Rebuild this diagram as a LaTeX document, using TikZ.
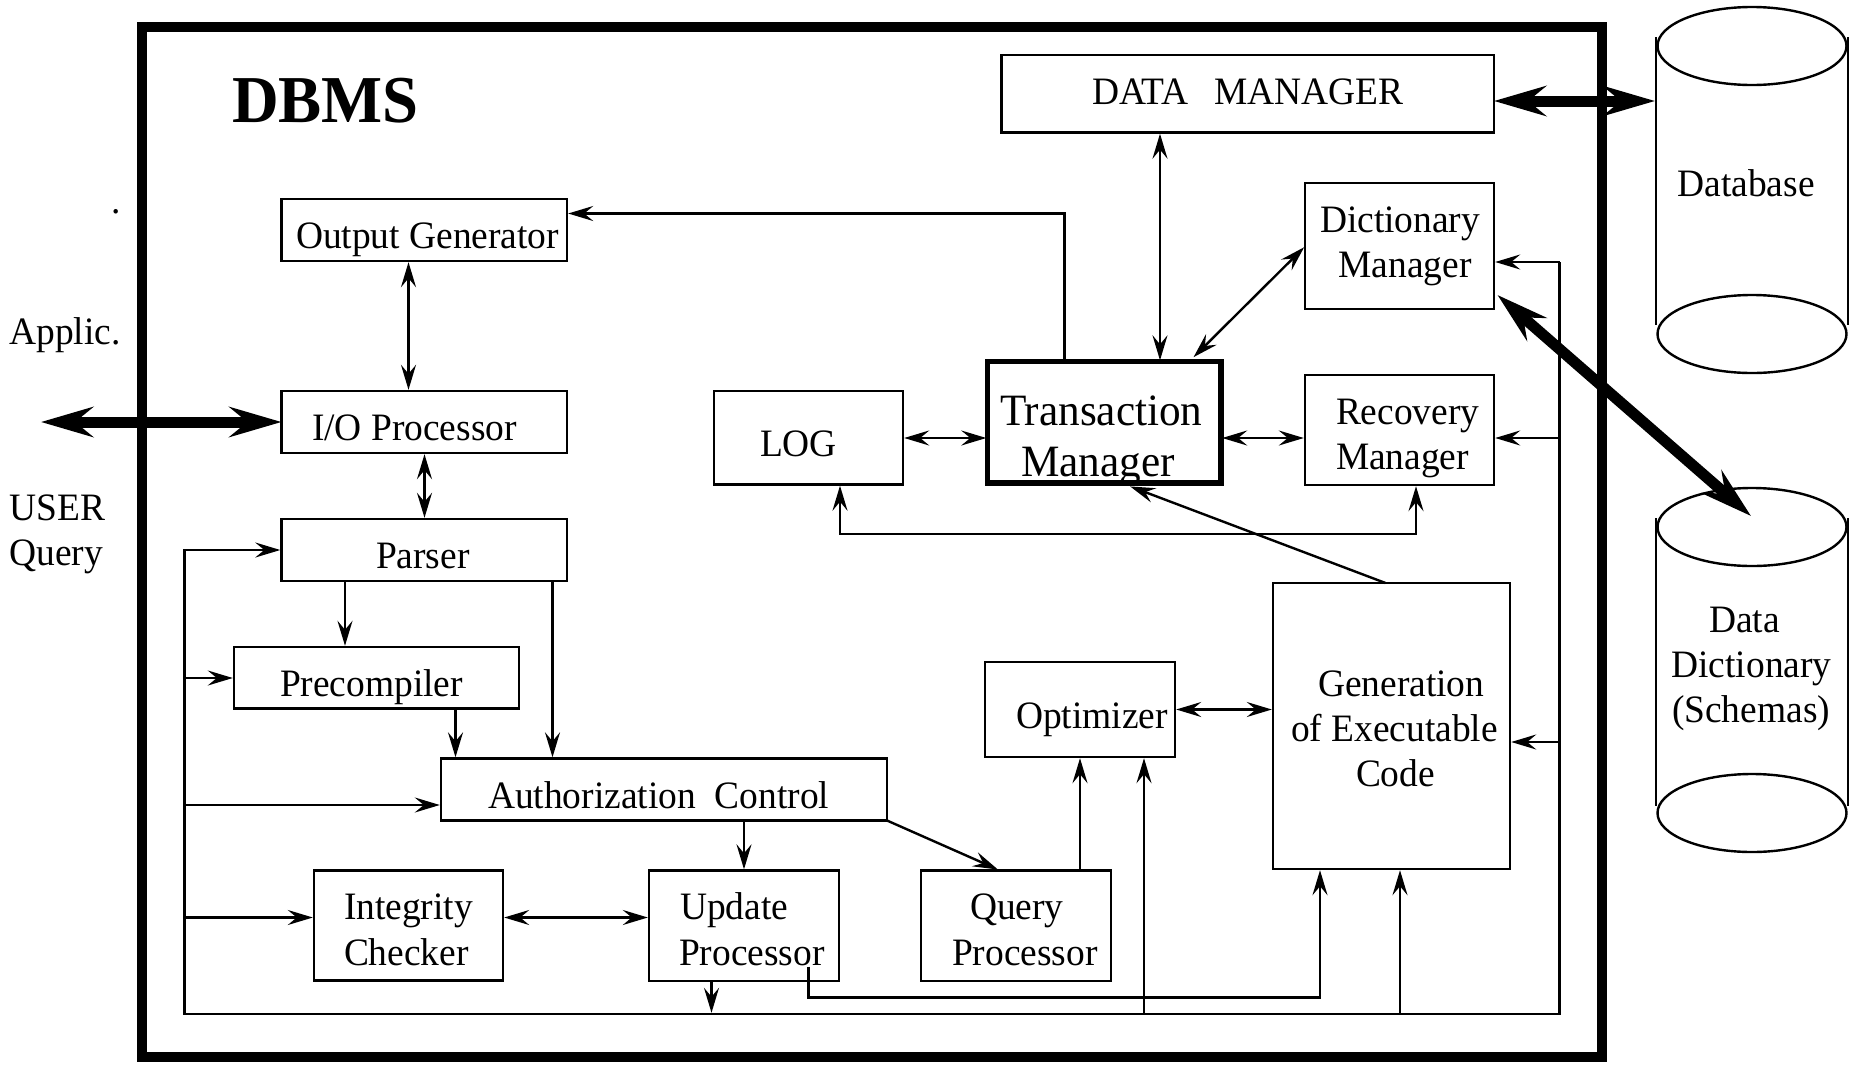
\documentclass[tikz,border=0pt]{standalone}
\usepackage{fontspec}
\setmainfont[FakeStretch=0.965]{Liberation Serif}
\usetikzlibrary{arrows.meta,shapes.geometric,calc}
\newcommand\dbbox[6][boxnode]{\node[#1,minimum width={(#5-#3)*0.5pt},minimum height={(#6-#4)*0.5pt}] (#2) at ({(#3+#5)/2},{(#4+#6)/2}) {};}
\newcommand\dbtext[4]{\node[lab] (#1) at (#2,#3) {#4};}
\tikzset{
  boxnode/.style={draw,line width=1.2pt,rectangle,inner sep=0pt,outer sep=0pt},
  heavybox/.style={boxnode,line width=2.8pt},
  lab/.style={anchor=base west,inner sep=0pt,outer sep=0pt,font=\fontsize{19.4}{22}\selectfont},
  thin tip/.tip={Stealth[length=12.5pt,width=7.5pt,inset=4.5pt]},
  thick tip/.tip={Stealth[length=26pt,width=15pt,inset=9pt]},
  wire/.style={line width=1.2pt},
  arr/.style={wire,-{thin tip},shorten >=0.6pt},
  dbl/.style={wire,{thin tip}-{thin tip},shorten >=0.6pt,shorten <=0.6pt},
  fat/.style={line width=5.5pt,{thick tip}-{thick tip}},
  cyl/.style={draw,ellipse,line width=1.2pt,inner sep=0pt,outer sep=0pt,minimum width=94.5pt,minimum height=39pt},
}
\begin{document}
\begin{tikzpicture}[x=0.5pt,y=-0.5pt]
\useasboundingbox (0,0) rectangle (1865,1066);
% outer frame
\dbbox[boxnode,line width=5pt]{frame}{142}{27}{1602}{1056.5}
% boxes
\dbbox{dm}{1001.5}{55}{1494}{132.5}
\dbbox{dict}{1305}{183}{1494}{309}
\dbbox{rec}{1305}{375}{1494}{485}
\dbbox[heavybox]{tm}{987.5}{361.5}{1221}{483}
\dbbox{log}{714}{391}{903}{484.5}
\dbbox{out}{281.5}{199}{567}{261}
\dbbox{io}{281.5}{391}{567}{453}
\dbbox{par}{281.5}{519}{567}{581}
\dbbox{pre}{234}{647}{519}{708.5}
\dbbox{auth}{441}{758.5}{887}{820.5}
\dbbox{integ}{314}{870.5}{503}{980.5}
\dbbox{upd}{649}{870.5}{839}{981}
\dbbox{qp}{921}{870.5}{1111}{981}
\dbbox{opt}{985}{662}{1175}{757}
\dbbox{gen}{1273}{583}{1510}{869}
% cylinders
\node[cyl] (dbTop) at (1752,46) {};
\node[cyl] (dbBot) at (1752,334) {};
\node[cyl] (ddTop) at (1752,527) {};
\node[cyl] (ddBot) at (1752,813) {};
\draw[wire] (1656,37) -- (1656,325);
\draw[wire] (1848,37) -- (1848,325);
\draw[wire] (1656,518) -- (1656,806);
\draw[wire] (1848,518) -- (1848,806);
% labels
\node[lab,font=\fontsize{33.5}{36}\selectfont\bfseries] (dbms) at (232,122) {DBMS};
\dbtext{dot}{112}{213}{.}
\dbtext{applic}{9.5}{344}{Applic.}
\dbtext{user}{9.5}{520}{USER}
\dbtext{query}{9.5}{565}{Query}
\dbtext{tout}{296}{248}{Output Generator}
\dbtext{tio}{312}{440}{I/O Processor}
\dbtext{tpar}{376}{568}{Parser}
\dbtext{tpre}{280}{696}{Precompiler}
\dbtext{tauth}{488}{808}{Authorization\ \ Control}
\dbtext{tint}{344}{919.5}{Integrity}
\dbtext{tchk}{344}{965}{Checker}
\dbtext{tupd}{680}{919.5}{Update}
\dbtext{tupp}{679}{965}{Processor}
\dbtext{tqry}{970}{919.5}{Query}
\dbtext{tqrp}{952}{965}{Processor}
\dbtext{topt}{1016}{728}{Optimizer}
\dbtext{tgen}{1318}{696.5}{Generation}
\dbtext{texe}{1291}{741}{of Executable}
\dbtext{tcod}{1356}{786}{Code}
\node[lab,font=\fontsize{22.4}{24}\selectfont] (ttr) at (1000,425) {Transaction};
\node[lab,font=\fontsize{22.4}{24}\selectfont] (tmg) at (1021,476) {Manager};
\dbtext{tlog}{760}{456}{LOG}
\dbtext{tdm}{1092}{104.5}{DATA\ \ \ \kern-1.2pt MANAGER}
\dbtext{tdic}{1320}{232}{Dictionary}
\dbtext{tdma}{1338.5}{277}{Manager}
\dbtext{trec}{1336}{424}{Recovery}
\dbtext{trma}{1336}{469.5}{Manager}
\dbtext{tdb}{1677.5}{196}{Database}
\dbtext{tdd}{1709}{632.5}{Data}
\dbtext{tddi}{1671.5}{677}{Dictionary}
\dbtext{tsch}{1672}{722}{(Schemas)}
% routing coordinates
\coordinate (xa) at (408.5,0);
\coordinate (xb) at (424.5,0);
\coordinate (xc) at (345,0);
\coordinate (xd) at (552.5,0);
\coordinate (xe) at (455.5,0);
\coordinate (xf) at (1064.5,0);
\coordinate (xg) at (1160,0);
\coordinate (xq) at (1080,0);
\coordinate (xu) at (744,0);
\coordinate (xo) at (1144,0);
\coordinate (xh) at (1400,0);
\coordinate (xi) at (1320,0);
\coordinate (xv) at (711.5,0);
\coordinate (xl) at (840,0);
\coordinate (xr) at (1416,0);
\coordinate (ytr) at (0,438);
\coordinate (yog) at (0,213.5);
\coordinate (yog2) at (0,709.5);
\coordinate (yui) at (0,917.5);
\coordinate (ylr) at (0,534);
\coordinate (busTR) at (1559.5,262);
\coordinate (busBR) at (1559.5,1014);
\coordinate (busBL) at (184.5,1014);
\coordinate (busTL) at (184.5,550);
\coordinate (busPre) at (184.5,678);
\coordinate (busAuth) at (184.5,805);
\coordinate (busInt) at (184.5,917.5);
\coordinate (busRec) at (1559.5,438);
\coordinate (busGen) at (1559.5,742);
\coordinate (updIn) at (808.5,966.5);
\coordinate (updLow) at (808.5,997.5);
\coordinate (genLow) at (1320,997.5);
\coordinate (extL) at (41,422);
% connectors
\draw[dbl] (out.south -| xa) -- (io.north -| xa);
\draw[dbl] (io.south -| xb) -- (par.north -| xb);
\draw[arr] (par.south -| xc) -- (pre.north -| xc);
\draw[arr] (par.south -| xd) -- (auth.north -| xd);
\draw[arr] (pre.south -| xe) -- (auth.north -| xe);
\draw[arr] (tm.north -| xf) -- (xf |- yog) -- (out.east |- yog);
\draw[dbl] (dm.south -| xg) -- (tm.north -| xg);
\draw[dbl] (1192.7,358) -- (dict.west |- 0,246.4);
\draw[dbl] (log.east |- ytr) -- (tm.west |- ytr);
\draw[dbl] (tm.east |- ytr) -- (rec.west |- ytr);
\draw[dbl] (log.south -| xl) -- (xl |- ylr) -- (xr |- ylr) -- (rec.south -| xr);
\draw[arr] (gen.north -| 1385.5,0) -- (1129,486);
\draw[dbl] (opt.east |- yog2) -- (gen.west |- yog2);
\draw[arr] (qp.north -| xq) -- (opt.south -| xq);
\draw[arr] (auth.south -| xu) -- (upd.north -| xu);
\draw[arr] (auth.south east) -- (999,870);
\draw[dbl] (integ.east |- yui) -- (upd.west |- yui);
% shared bus
\draw[arr] (busTR) -- (busBR) -- (busBL) -- (busTL) -- (par.west |- busTL);
\draw[arr] (busTR) -- (dict.east |- busTR);
\draw[arr] (busRec) -- (rec.east |- busRec);
\draw[arr] (busGen) -- (gen.east |- busGen);
\draw[arr] (busPre) -- (pre.west |- busPre);
\draw[arr] (busAuth) -- (auth.west |- busAuth);
\draw[arr] (busInt) -- (integ.west |- busInt);
\draw[arr] (busBR -| xo) -- (opt.south -| xo);
\draw[arr] (busBR -| xh) -- (gen.south -| xh);
\draw[arr] (upd.south -| xv) -- (busBR -| xv);
\draw[arr] (updIn) -- (updLow) -- (genLow) -- (gen.south -| xi);
% heavy arrows
\draw[fat] (extL) -- (io.west |- extL);
\draw[fat] (dm.east |- 0,101) -- (1655,101);
\draw[fat] (1497.5,295) -- (1751,516);
\end{tikzpicture}
\end{document}
